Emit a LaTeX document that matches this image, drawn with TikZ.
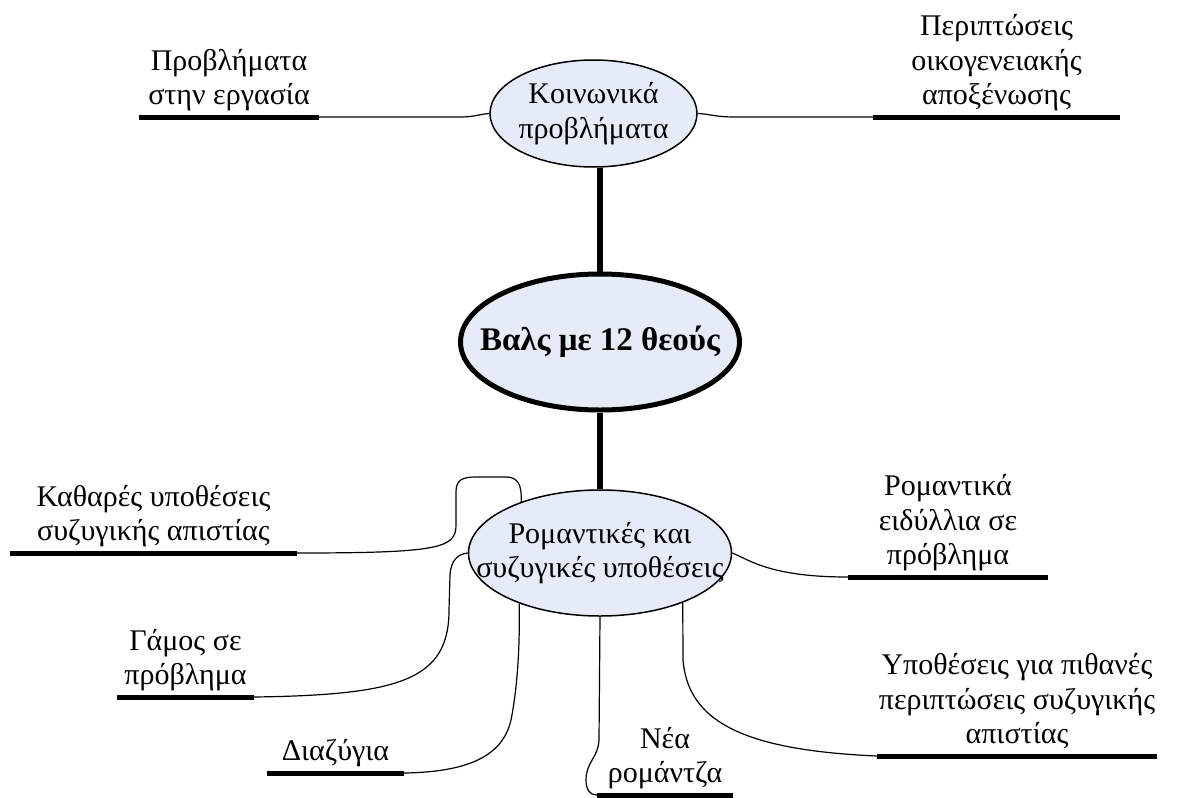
\documentclass[tikz,border=0pt]{standalone}
\usepackage{fontspec}
\setmainfont{Liberation Serif}
\usetikzlibrary{shapes.geometric}
\definecolor{bubblefill}{RGB}{230,236,247}

\begin{document}
\begin{tikzpicture}[
    x=1pt, y=-1pt,
    bubble/.style={ellipse, draw, fill=bubblefill, line width=1.5pt, inner sep=0pt},
    bubbletext/.style={align=center, font=\fontsize{30}{34.5}\selectfont},
    leaf/.style={align=center, anchor=south, minimum width=#1, inner xsep=0pt,
        inner ysep=12pt, text depth=0pt, font=\fontsize{30}{34.5}\selectfont},
    underline/.style={line width=5pt},
    branch/.style={line width=1.2pt},
    trunk/.style={line width=6pt},
]
    \useasboundingbox (0,0) rectangle (1197,798);

    \node[bubble, minimum width=207pt, minimum height=107pt] (social) at (593.5,113.5) {};
    \node[bubbletext] (socialtext) at (social) {Κοινωνικά\\προβλήματα};

    \node[bubble, line width=5pt, minimum width=279pt, minimum height=136pt] (core) at (600,342) {};
    \node[bubbletext, font=\fontsize{33}{38}\selectfont\bfseries] (coretext) at (core) {Βαλς με 12 θεούς};

    \node[bubble, minimum width=263pt, minimum height=126pt] (romance) at (600,553) {};
    \node[bubbletext] (romancetext) at (romance) {Ρομαντικές και\\συζυγικές υποθέσεις};

    \node[leaf=180pt] (work) at (229,117) {Προβλήματα\\στην εργασία};
    \node[leaf=247pt] (family) at (996.5,117) {Περιπτώσεις\\οικογενειακής\\αποξένωσης};
    \node[leaf=287pt] (infidelity) at (153.5,553) {Καθαρές υποθέσεις\\συζυγικής απιστίας};
    \node[leaf=137pt] (marriage) at (185.5,697) {Γάμος σε\\πρόβλημα};
    \node[leaf=137pt] (divorce) at (335.5,773) {Διαζύγια};
    \node[leaf=136pt] (newromance) at (665,795) {Νέα\\ρομάντζα};
    \node[leaf=280pt] (suspicion) at (1017,756) {Υποθέσεις για πιθανές\\περιπτώσεις συζυγικής\\απιστίας};
    \node[leaf=200pt] (idyll) at (948,577) {Ρομαντικά\\ειδύλλια σε\\πρόβλημα};

    \foreach \leafname in {work, family, infidelity, marriage, divorce, newromance, suspicion, idyll}
        \draw[underline] (\leafname.south west) -- (\leafname.south east);

    \draw[trunk] (core.north) -- (core.north |- social.south);
    \draw[trunk] (core.south) -- (romance.north);

    \begin{scope}[
        every path/.style={branch},
    ]
        \draw (work.south east) -- (460,117) .. controls (475,117) and (480,114) .. (social.west);
        \draw (social.east) .. controls (710,114) and (715,117) .. (735,117) -- (family.south west);
        \draw (infidelity.south east) .. controls (440,553) and (456,548) .. (456,525)
            -- (456,492) .. controls (456,480) and (462,477) .. (476,477)
            -- (506,477) .. controls (518,477) and (522,485) .. (romance.147);
        \draw (marriage.south east) .. controls (400,695) and (449,680) .. (449,610)
            -- (450,575) .. controls (451,560) and (458,554) .. (romance.west);
        \draw (divorce.south east) .. controls (470,772) and (503,755) .. (511,720)
            .. controls (517,690) and (520,650) .. (romance.212);
        \draw (romance.south) -- (599,740) .. controls (598,758) and (586,762) .. (586,780)
            .. controls (586,790) and (590,795) .. (newromance.south west);
        \draw (romance.329) -- (683,660) .. controls (688,720) and (740,750) .. (suspicion.south west);
        \draw (romance.east) .. controls (750,560) and (770,577) .. (idyll.south west);
    \end{scope}
\end{tikzpicture}
\end{document}
